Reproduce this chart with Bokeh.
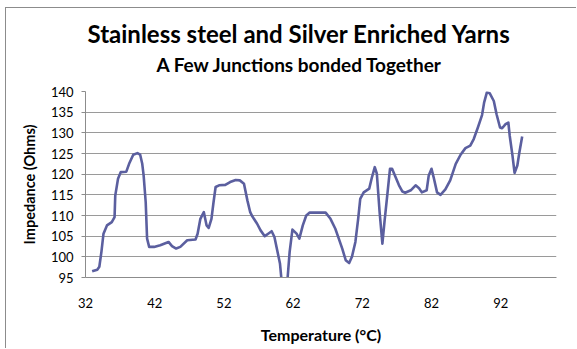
from bokeh.plotting import figure
from bokeh.models import Range1d, FixedTicker, Title
from bokeh.embed import file_html
from bokeh.resources import INLINE

title_text = "Stainless steel and Silver Enriched Yarns"
subtitle_text = "A Few Junctions bonded Together"
x_label = "Temperature (°C)"
y_label = "Impedance (Ohms)"
x_ticks = [32, 42, 52, 62, 72, 82, 92]
y_ticks = [95, 100, 105, 110, 115, 120, 125, 130, 135, 140]

temperature = [
    32.96, 33.7, 34.0, 34.3, 34.6, 35.1, 35.8, 36.2, 36.3, 36.7,
    37.1, 37.9, 38.3, 38.9, 39.5, 39.9, 40.2, 40.4, 40.7, 40.9,
    41.2, 41.9, 42.8, 44.0, 44.5, 45.1, 45.7, 46.7, 47.9, 48.2,
    48.6, 49.1, 49.5, 49.8, 50.2, 50.5, 50.8, 51.3, 52.2, 52.9,
    53.7, 54.3, 54.9, 55.4, 55.8, 56.1, 56.8, 57.3, 57.9, 58.4,
    58.9, 59.3, 59.7, 60.1, 60.3, 60.75, 61.2, 61.5, 61.9, 62.5,
    62.9, 63.4, 63.9, 64.4, 66.0, 66.7, 67.4, 68.1, 68.6, 69.1,
    69.6, 70.1, 70.5, 71.0, 71.4, 71.7, 72.2, 73.0, 73.4, 73.8,
    74.1, 74.5, 74.9, 75.2, 75.6, 76.0, 76.3, 76.8, 77.3, 77.8,
    78.2, 79.0, 79.7, 80.2, 80.6, 81.3, 81.6, 82.0, 82.3, 82.8,
    83.3, 84.0, 84.7, 85.5, 86.2, 86.9, 87.6, 88.1, 88.7, 89.3,
    89.6, 90.0, 90.4, 91.0, 91.4, 91.9, 92.2, 92.7, 93.1, 93.3,
    93.7, 94.0, 94.4, 94.7, 95.1,
]
impedance = [
    96.5, 96.9, 97.6, 101.2, 105.6, 107.6, 108.4, 109.6, 114.8, 118.9,
    120.5, 120.6, 122.5, 124.7, 125.1, 124.7, 122.5, 119.7, 113.2, 104.4,
    102.4, 102.4, 102.8, 103.6, 102.6, 102.0, 102.4, 104.0, 104.2, 105.6,
    109.2, 110.8, 107.6, 107.0, 109.2, 113.2, 116.9, 117.3, 117.4, 118.1,
    118.6, 118.5, 117.7, 113.6, 110.8, 109.8, 108.0, 106.4, 105.0, 105.6,
    106.2, 104.8, 101.6, 98.4, 94.8, 91.0, 94.8, 101.2, 106.6, 105.6,
    104.4, 107.6, 110.0, 110.7, 110.7, 110.7, 109.2, 106.8, 104.4, 102.0,
    99.2, 98.5, 100.0, 103.6, 109.2, 114.0, 115.6, 116.5, 119.3, 121.7,
    120.1, 110.8, 103.2, 108.4, 114.8, 121.3, 121.3, 119.3, 117.3, 115.8,
    115.5, 116.1, 117.3, 116.6, 115.6, 116.1, 119.7, 121.3, 119.3, 115.6,
    115.0, 116.3, 118.5, 122.5, 124.7, 126.3, 126.9, 128.5, 131.3, 134.3,
    137.3, 139.8, 139.6, 137.7, 134.5, 131.3, 131.1, 132.1, 132.5, 129.3,
    124.5, 120.3, 122.1, 125.3, 129.1,
]

FONT = "Lato"
GRID = "#9a9a9a"
AXIS = "#8c8c8c"

p = figure(width=571, height=341, output_backend="svg", toolbar_location=None,
           x_range=Range1d(32, 100.06), y_range=Range1d(95, 140),
           min_border_left=79, min_border_right=21, min_border_top=83, min_border_bottom=72,
           background_fill_color="white", border_fill_color="white", title=None,
           styles={"margin-left": "5px", "margin-top": "7px",
                   "border-left": "1px solid #8c8c8c", "border-top": "1px solid #8c8c8c"})
p.outline_line_color = None

p.line(temperature, impedance, line_color="#5b5f9f", line_width=2.6, line_join="round")

# x axis
p.xaxis.ticker = FixedTicker(ticks=x_ticks)
p.xaxis.major_tick_out = 0
p.xaxis.major_tick_in = 0
p.xaxis.minor_tick_out = 0
p.xaxis.minor_tick_in = 0
p.xaxis.axis_line_color = AXIS
p.xaxis.major_label_text_font = FONT
p.xaxis.major_label_text_font_size = "13px"
p.xaxis.major_label_text_color = "black"
p.xaxis.major_label_standoff = 20
p.xaxis.axis_label = x_label
p.xaxis.axis_label_text_font = FONT
p.xaxis.axis_label_text_font_style = "bold"
p.xaxis.axis_label_text_font_size = "16px"
p.xaxis.axis_label_text_color = "black"
p.xaxis.axis_label_standoff = 14

# y axis
p.yaxis.ticker = FixedTicker(ticks=y_ticks)
p.yaxis.major_tick_out = 4
p.yaxis.major_tick_in = 0
p.yaxis.minor_tick_out = 0
p.yaxis.minor_tick_in = 0
p.yaxis.major_tick_line_color = AXIS
p.yaxis.axis_line_color = AXIS
p.yaxis.major_label_text_font = FONT
p.yaxis.major_label_text_font_size = "13px"
p.yaxis.major_label_text_color = "black"
p.yaxis.major_label_standoff = 8
p.yaxis.axis_label = y_label
p.yaxis.axis_label_text_font = FONT
p.yaxis.axis_label_text_font_style = "bold"
p.yaxis.axis_label_text_font_size = "14.5px"
p.yaxis.axis_label_text_color = "black"
p.yaxis.axis_label_standoff = 10

p.xgrid.grid_line_color = None
p.ygrid.grid_line_color = GRID
p.ygrid.ticker = FixedTicker(ticks=y_ticks)

# spacer between plot area and subtitle
p.add_layout(Title(text=" ", align="left", text_font=FONT, text_font_size="1px",
                   text_color="white", standoff=11), "above")
# subtitle, then main title above it
p.add_layout(Title(text=subtitle_text, align="left", text_font=FONT, text_font_style="bold",
                   text_font_size="19px", text_color="black", standoff=4, offset=71), "above")
p.add_layout(Title(text=title_text, align="left", text_font=FONT, text_font_style="bold",
                   text_font_size="24px", text_color="black", standoff=2, offset=2), "above")

open("out.html", "w").write(file_html(p, INLINE))
